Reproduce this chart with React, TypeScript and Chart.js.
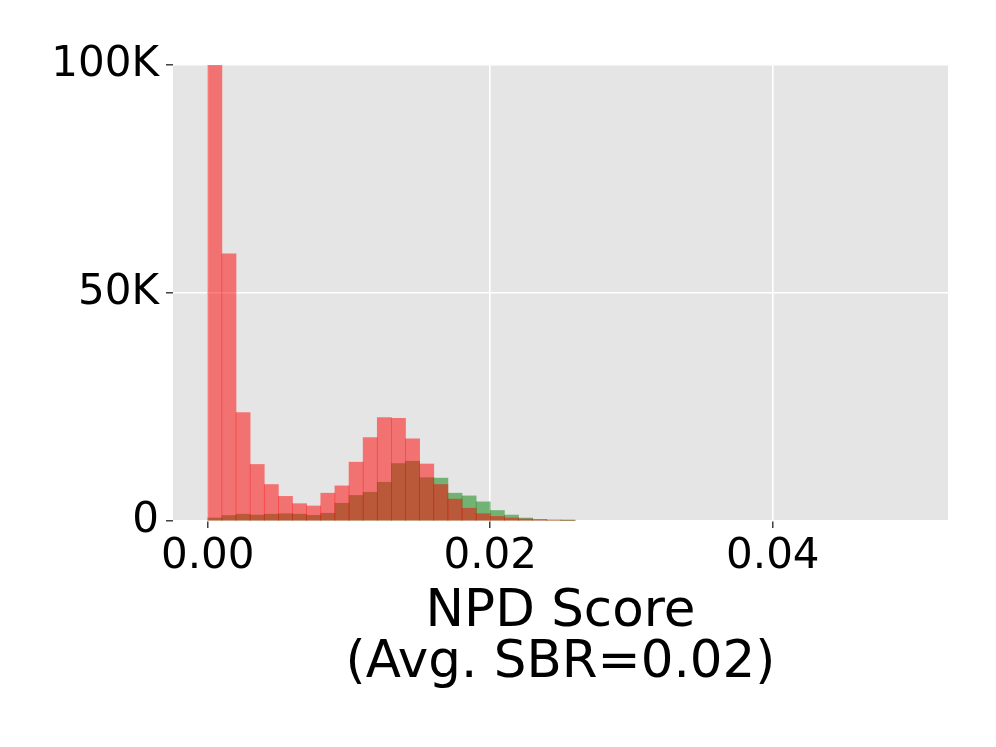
import React, { useEffect, useRef } from "react";
import { Chart, registerables } from "chart.js";

Chart.register(...registerables);

// Histogram bins (bin centers, width 0.001)
const binCenters = [
  0.0005, 0.0015, 0.0025, 0.0035, 0.0045, 0.0055, 0.0065, 0.0075, 0.0085, 0.0095,
  0.0105, 0.0115, 0.0125, 0.0135, 0.0145, 0.0155, 0.0165, 0.0175, 0.0185, 0.0195,
  0.0205, 0.0215, 0.0225, 0.0235, 0.0245, 0.0255,
];

// Red series counts
const redCounts = [
  135000, 58600, 23800, 12400, 8000, 5400, 3800, 3300, 6100, 7700,
  12900, 18300, 22700, 22500, 18000, 12500, 8000, 4800, 2800, 1600,
  1000, 650, 450, 250, 200, 200,
];

// Green series counts
const greenCounts = [
  660, 1200, 1500, 1300, 1500, 1600, 1500, 1250, 1700, 3900,
  5600, 6300, 8500, 12600, 13100, 9500, 9400, 6100, 5500, 4200,
  2300, 1300, 650, 370, 200, 30,
];

const xTicks = [0, 0.02, 0.04];
const yTicks = [0, 50000, 100000];
const xTitle = ["NPD Score", "(Avg. SBR=0.02)"];

const FONT = "'DejaVu Sans', sans-serif";

export default function App() {
  const canvasRef = useRef<HTMLCanvasElement | null>(null);

  useEffect(() => {
    if (!canvasRef.current) return;
    const bgPlugin = {
      id: "plotBg",
      beforeDraw(chart: any) {
        const { ctx, chartArea } = chart;
        if (!chartArea) return;
        ctx.save();
        ctx.fillStyle = "#E5E5E5";
        ctx.fillRect(chartArea.left, chartArea.top, chartArea.right - chartArea.left, chartArea.bottom - chartArea.top);
        ctx.restore();
      },
    };

    const chart = new Chart(canvasRef.current, {
      type: "bar",
      data: {
        datasets: [
          {
            label: "red",
            data: binCenters.map((x, i) => ({ x, y: redCounts[i] })),
            backgroundColor: "rgba(255,0,0,0.5)",
            borderWidth: 0,
            barPercentage: 1,
            categoryPercentage: 1,
            grouped: false,
          } as any,
          {
            label: "green",
            data: binCenters.map((x, i) => ({ x, y: greenCounts[i] })),
            backgroundColor: "rgba(0,128,0,0.5)",
            borderWidth: 0,
            barPercentage: 1,
            categoryPercentage: 1,
            grouped: false,
          } as any,
        ],
      },
      options: {
        animation: false,
        responsive: false,
        devicePixelRatio: 1,
        layout: { padding: { top: 65, right: 48, left: 0, bottom: 0 } },
        plugins: { legend: { display: false }, tooltip: { enabled: false } },
        scales: {
          x: {
            type: "linear",
            min: -0.00246,
            max: 0.0524,
            offset: false,
            afterBuildTicks: (scale: any) => {
              scale.ticks = xTicks.map((v) => ({ value: v }));
            },
            afterFit: (scale: any) => {
              scale.height = 226;
            },
            border: { display: false },
            grid: {
              offset: false,
              color: "#FFFFFF",
              lineWidth: 1.6,
              tickColor: "#222222",
              tickLength: 7,
              tickWidth: 1.3,
              drawTicks: true,
            },
            ticks: {
              font: { family: FONT, size: 42 },
              color: "#000000",
              padding: 4,
              maxRotation: 0,
              autoSkip: false,
              callback: (v: any) => Number(v).toFixed(2),
            },
            title: {
              display: true,
              text: xTitle,
              font: { family: FONT, size: 51.5, lineHeight: "51px" as any },
              color: "#000000",
              padding: { top: 0, bottom: 58 },
            },
          },
          y: {
            type: "linear",
            min: 0,
            max: 100000,
            afterBuildTicks: (scale: any) => {
              scale.ticks = yTicks.map((v) => ({ value: v }));
            },
            afterFit: (scale: any) => {
              scale.width = 173;
            },
            border: { display: false },
            grid: {
              color: "#FFFFFF",
              lineWidth: 1.6,
              tickColor: "#222222",
              tickLength: 7,
              tickWidth: 1.3,
              drawTicks: true,
            },
            ticks: {
              font: { family: FONT, size: 42 },
              color: "#000000",
              padding: 7,
              callback: (v: any) => (Number(v) === 0 ? "0" : Number(v) / 1000 + "K"),
            },
          },
        },
      },
      plugins: [bgPlugin],
    });
    return () => chart.destroy();
  }, []);

  return (
    <div style={{ position: "absolute", left: 0, top: 0, width: 996, height: 747, background: "#fff" }}>
      <canvas ref={canvasRef} width={996} height={747} style={{ width: 996, height: 747, display: "block" }} />
    </div>
  );
}
